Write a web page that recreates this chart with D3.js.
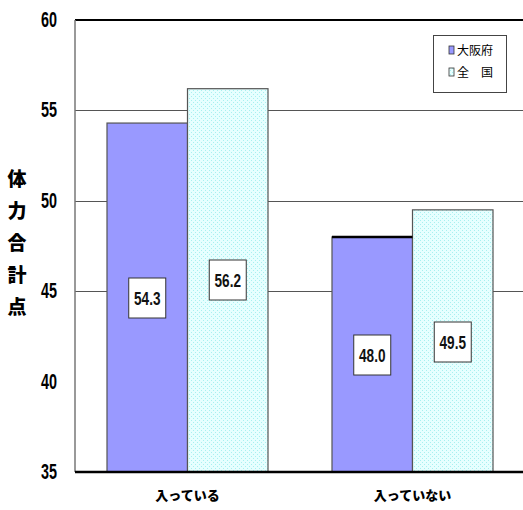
<!DOCTYPE html>
<html><head><meta charset="utf-8">
<script src="https://cdn.jsdelivr.net/npm/d3@7"></script>
<style>
body{margin:0;background:#fff;}
svg{display:block;}
</style></head>
<body>
<svg id="c" width="523" height="510"></svg>
<script>
const categories = ["入っている", "入っていない"];
const seriesNames = ["大阪府", "全　国"];
const osakaValues = [54.3, 48.0];
const nationalValues = [56.2, 49.5];
const yTicks = [35, 40, 45, 50, 55, 60];
const gridTicks = [45, 50, 55];
const yTitle = "体力合計点";

(function(){
const svg = d3.select("#c");
const defs = svg.append("defs");
const pat = defs.append("pattern").attr("id","dots").attr("width",4).attr("height",4).attr("patternUnits","userSpaceOnUse");
pat.append("rect").attr("width",4).attr("height",4).attr("fill","#e6ffff");
pat.append("rect").attr("x",0).attr("y",0).attr("width",1).attr("height",1).attr("fill","#a8f0f0");
pat.append("rect").attr("x",2).attr("y",2).attr("width",1).attr("height",1).attr("fill","#a8f0f0");

const pL = 75, pR = 523, pT = 20, pB = 472;
const y = d3.scaleLinear().domain([35, 60]).range([pB, pT]);
const x0 = d3.scaleBand().domain(categories).range([pL, pL + 450]).paddingInner(0.2844).paddingOuter(0.1422);
const x1 = d3.scaleBand().domain([0,1]).range([0, x0.bandwidth()]);

svg.append("g").selectAll("line").data(gridTicks).join("line")
  .attr("x1", pL).attr("x2", pR)
  .attr("y1", d => Math.round(y(d)) + 0.5).attr("y2", d => Math.round(y(d)) + 0.5)
  .attr("stroke", "#555").attr("stroke-width", 1);
svg.append("line").attr("x1", pL).attr("x2", pR).attr("y1", y(60)).attr("y2", y(60))
  .attr("stroke", "#000").attr("stroke-width", 2);

const fills = ["#9999ff", "url(#dots)"];
const data = categories.map((c, i) => ({c, vals: [osakaValues[i], nationalValues[i]]}));
const groups = svg.append("g").selectAll("g").data(data).join("g")
  .attr("transform", d => `translate(${x0(d.c)},0)`);
groups.selectAll("rect").data(d => d.vals).join("rect")
  .attr("x", (d, i) => x1(i)).attr("width", x1.bandwidth())
  .attr("y", d => y(d)).attr("height", d => pB - y(d))
  .attr("fill", (d, i) => fills[i]).attr("stroke", "#555").attr("stroke-width", 1.2);
// darker top edge on second group's first bar
groups.filter((d, i) => i === 1).append("line")
  .attr("x1", x1(0)).attr("x2", x1(0) + x1.bandwidth())
  .attr("y1", d => y(d.vals[0])).attr("y2", d => y(d.vals[0]))
  .attr("stroke", "#000").attr("stroke-width", 2.5);

const labelY = [[298, 280], [355, 342]];
groups.each(function(d, gi) {
  const g = d3.select(this);
  d.vals.forEach((v, i) => {
    const cx = x1(i) + x1.bandwidth() / 2;
    const cy = labelY[gi][i];
    g.append("rect").attr("x", cx - 18.5).attr("y", cy - 20).attr("width", 37).attr("height", 40)
      .attr("fill", "#fff").attr("stroke", "#333").attr("stroke-width", 1);
    g.append("text").attr("transform", `translate(${cx},${cy + 7}) scale(0.8,1.1)`).attr("text-anchor", "middle")
      .attr("font-family", "Liberation Sans, Arial, sans-serif")
      .attr("font-size", 17).attr("font-weight", "bold").attr("fill", "#111")
      .text(v.toFixed(1));
  });
});

svg.append("line").attr("x1", pL).attr("x2", pL).attr("y1", pT).attr("y2", pB)
  .attr("stroke", "#777").attr("stroke-width", 1.5);
svg.append("line").attr("x1", pL).attr("x2", pR).attr("y1", pB).attr("y2", pB)
  .attr("stroke", "#000").attr("stroke-width", 2.5);

svg.append("g").selectAll("text").data(yTicks).join("text")
  .attr("transform", d => `translate(57,${y(d) + 7}) scale(0.72,1.15)`).attr("text-anchor", "end")
  .attr("font-family", "Liberation Sans, Arial, sans-serif")
  .attr("font-size", 20).attr("font-weight", "bold").attr("fill", "#000")
  .text(d => d);

const tt = svg.append("text").attr("font-family", "Noto Sans CJK JP, sans-serif")
  .attr("font-size", 19).attr("font-weight", "900").attr("fill", "#000").attr("text-anchor", "middle");
Array.from(yTitle).forEach((ch, i) => {
  tt.append("tspan").attr("x", 17).attr("y", 186 + i * 32).text(ch);
});

svg.append("g").selectAll("text").data(categories).join("text")
  .attr("x", d => x0(d) + x0.bandwidth() / 2).attr("y", 500).attr("text-anchor", "middle")
  .attr("font-family", "Noto Sans CJK JP, sans-serif").attr("font-size", 13).attr("font-weight", "900")
  .attr("fill", "#000").text(d => d);

const lg = svg.append("g");
lg.append("rect").attr("x", 433.5).attr("y", 35.5).attr("width", 73).attr("height", 57)
  .attr("fill", "#fff").attr("stroke", "#444").attr("stroke-width", 1);
seriesNames.forEach((n, i) => {
  const yy = 50 + i * 22;
  lg.append("rect").attr("x", 449).attr("y", yy - 4).attr("width", 5).attr("height", 8)
    .attr("fill", fills[i]).attr("stroke", "#333").attr("stroke-width", 0.8);
  lg.append("text").attr("x", 457).attr("y", yy + 5).attr("font-family", "Noto Sans CJK JP, sans-serif")
    .attr("font-size", 12).attr("fill", "#000").text(n);
});
})();
</script>
</body></html>
